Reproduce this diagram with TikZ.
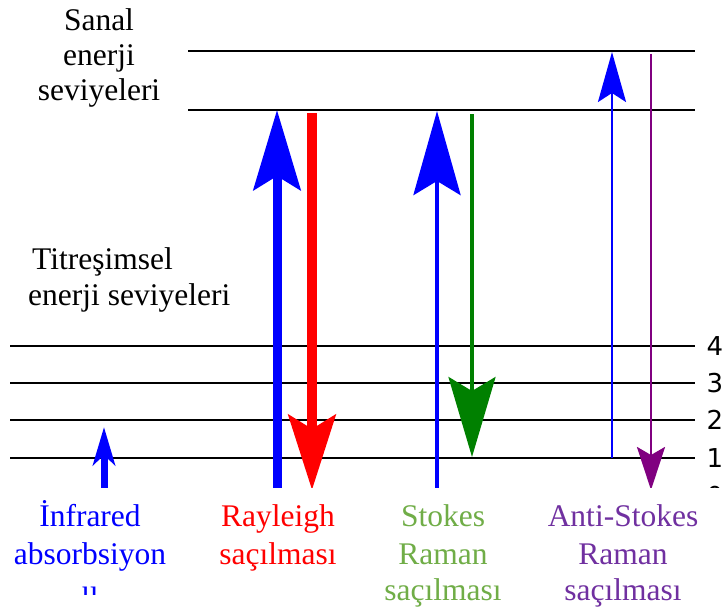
\documentclass[tikz,border=0pt]{standalone}
\usepackage{fontspec}
\setmainfont{Liberation Serif}
\newfontfamily\numfont{DejaVu Sans}
\usetikzlibrary{arrows.meta}
\definecolor{txtgreen}{RGB}{112,173,71}
\definecolor{txtpurple}{RGB}{112,48,160}
\definecolor{arrgreen}{RGB}{0,128,0}
\definecolor{arrpurple}{RGB}{128,0,128}
\begin{document}
\begin{tikzpicture}[x=1pt,y=-1pt,
  level/.style={line width=2.8pt, black},
  lbl/.style={inner sep=0pt, anchor=base, font=\fontsize{31.5}{36}\selectfont},
  lbll/.style={lbl, anchor=base west},
  num/.style={inner sep=0pt, font=\numfont\fontsize{26}{30}\selectfont},
  bighead/.style={-{Stealth[length=80pt,width=47pt,inset=14pt]}},
]
\useasboundingbox (0,0) rectangle (728,610);
\fill[white] (0,0) rectangle (728,610);

% energy levels
\coordinate (va-l) at (188,51);  \coordinate (va-r) at (695,51);
\coordinate (vb-l) at (188,110); \coordinate (vb-r) at (695,110);
\coordinate (l4-l) at (10,346);  \coordinate (l4-r) at (695,346);
\coordinate (l3-l) at (10,383);  \coordinate (l3-r) at (695,383);
\coordinate (l2-l) at (10,420);  \coordinate (l2-r) at (695,420);
\coordinate (l1-l) at (10,458);  \coordinate (l1-r) at (695,458);
\coordinate (l0-l) at (10,496);  \coordinate (l0-r) at (695,496);
\foreach \n in {va,vb,l4,l3,l2,l1,l0} \draw[level] (\n-l) -- (\n-r);

\node[num] (n4) at (715,346) {4};
\node[num] (n3) at (715,383) {3};
\node[num] (n2) at (715,420) {2};
\node[num] (n1) at (715,458) {1};
\node[num] (n0) at (715,496) {0};

% arrows
\coordinate (ir-s) at (104,500);  \coordinate (ir-e) at (104,427);
\draw[blue, line width=7pt, -{Stealth[length=38pt,width=22pt,inset=10pt]}] (ir-s) -- (ir-e);

\coordinate (ry-s) at (277,500);  \coordinate (ry-e) at (277,110);
\draw[blue, line width=9pt, bighead] (ry-s) -- (ry-e);
\coordinate (rr-s) at (312,113);  \coordinate (rr-e) at (312,490);
\draw[red, line width=10pt, -{Stealth[length=75pt,width=47pt,inset=14pt]}] (rr-s) -- (rr-e);

\coordinate (sb-s) at (437,500);  \coordinate (sb-e) at (437,111);
\draw[blue, line width=4.5pt, -{Stealth[length=84pt,width=47pt,inset=14pt]}] (sb-s) -- (sb-e);
\coordinate (sg-s) at (472,114);  \coordinate (sg-e) at (472,457);
\draw[arrgreen, line width=3.5pt, bighead] (sg-s) -- (sg-e);

\coordinate (ab-s) at (612,458);  \coordinate (ab-e) at (612,52);
\draw[blue, line width=2.5pt, -{Stealth[length=50pt,width=28pt,inset=9pt]}] (ab-s) -- (ab-e);
\coordinate (ap-s) at (651,54);   \coordinate (ap-e) at (651,490);
\draw[arrpurple, line width=2.8pt, -{Stealth[length=43pt,width=28pt,inset=8pt]}] (ap-s) -- (ap-e);

% cover of the lower part
\fill[white] (0,488) rectangle (728,610);

% left labels
\node[lbl] (sa1) at (99,31) {Sanal};
\node[lbl] (sa2) at (99,66) {enerji};
\node[lbl] (sa3) at (99,100) {seviyeleri};
\node[lbll] (ti1) at (32,269) {Titreşimsel};
\node[lbll] (ti2) at (28,305) {enerji seviyeleri};

% bottom labels
\node[lbl, blue] (ir1) at (90,526) {İnfrared};
\node[lbl, blue] (ir2) at (90,564) {absorbsiyon};
\begin{scope}
\clip (0,570) rectangle (200,594);
\node[lbl, blue] (ir3) at (90,601) {u};
\end{scope}
\node[lbl, red] (ra1) at (278,526) {Rayleigh};
\node[lbl, red] (ra2) at (278,564) {saçılması};
\node[lbl, txtgreen] (st1) at (443,526) {Stokes};
\node[lbl, txtgreen] (st2) at (443,564) {Raman};
\node[lbl, txtgreen] (st3) at (443,600) {saçılması};
\node[lbl, txtpurple] (as1) at (623,526) {Anti-Stokes};
\node[lbl, txtpurple] (as2) at (623,564) {Raman};
\node[lbl, txtpurple] (as3) at (623,600) {saçılması};
\end{tikzpicture}
\end{document}
